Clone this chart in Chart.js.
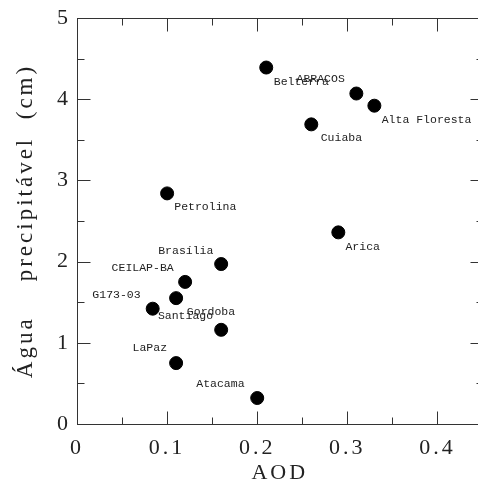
<!DOCTYPE html>
<html>
<head>
<meta charset="utf-8">
<script src="https://cdn.jsdelivr.net/npm/chart.js@4/dist/chart.umd.min.js"></script>
<style>
  html, body { margin: 0; padding: 0; background: #fff; overflow: hidden; }
  #wrap { width: 478px; height: 486px; overflow: hidden; }
</style>
</head>
<body>
<div id="wrap"><canvas id="chart" width="490" height="486"></canvas></div>
<script>
const sites = ["Belterra", "ABRACOS", "Alta Floresta", "Cuiaba", "Petrolina", "Arica", "Brasília",
  "CEILAP-BA", "Santiago", "G173-03", "Gordoba", "LaPaz", "Atacama"];
const aod = [0.21, 0.31, 0.33, 0.26, 0.10, 0.29, 0.16, 0.12, 0.11, 0.084, 0.16, 0.11, 0.20];
const water = [4.39, 4.07, 3.92, 3.69, 2.84, 2.36, 1.97, 1.75, 1.55, 1.42, 1.16, 0.75, 0.32];

const xTicks = [0, 0.1, 0.2, 0.3, 0.4];
const xTickLabels = ["0", "0.1", "0.2", "0.3", "0.4"];
const xMinor = [0.05, 0.15, 0.25, 0.35, 0.45];
const yTicks = [0, 1, 2, 3, 4, 5];
const yTickLabels = ["0", "1", "2", "3", "4", "5"];
const yMinor = [0.5, 1.5, 2.5, 3.5, 4.5];

// where each site name sits relative to its dot (px)
const labelDx = [35.1, -35.7, 52.2, 30.1, 38.2, 24.4, -35.4, -42.5, 9.4, -36.2, -10.2, -26.3, -36.8];
const labelDy = [14.3, -15, 14, 14, 14, 14.4, -13.3, -13.7, 18, -13.3, -17.7, -14.7, -14.3];

const axisFont = { family: "'Liberation Serif', serif", size: 22, weight: "normal" };
const ink = "#222";

const frameTicks = {
  id: "frameTicks",
  beforeDraw(chart) {
    chart.ctx.letterSpacing = "3px"; // the original axis lettering is loosely spaced
  },
  beforeDatasetsDraw(chart) {
    const { ctx, chartArea: a, scales: { x, y } } = chart;
    ctx.letterSpacing = "0px";
    ctx.save();
    ctx.strokeStyle = "#333";
    ctx.lineWidth = 1;
    const L = Math.round(a.left) + 0.5, R = Math.round(a.right) + 0.5;
    const T = Math.round(a.top) + 0.5, B = Math.round(a.bottom) + 0.5;
    ctx.strokeRect(L, T, R - L, B - T);
    const line = (x1, y1, x2, y2) => { ctx.beginPath(); ctx.moveTo(x1, y1); ctx.lineTo(x2, y2); ctx.stroke(); };
    const xt = (v, len) => {
      const px = Math.round(x.getPixelForValue(v)) + 0.5;
      line(px, B, px, B - len); line(px, T, px, T + len);
    };
    const yt = (v, len) => {
      const py = Math.round(y.getPixelForValue(v)) + 0.5;
      line(L, py, L + len, py); line(R, py, R - len, py);
    };
    xTicks.forEach(v => xt(v, 13));
    xMinor.forEach(v => xt(v, 7));
    yTicks.forEach(v => yt(v, 13));
    yMinor.forEach(v => yt(v, 7));
    ctx.restore();
  },
  afterDatasetsDraw(chart) {
    const ctx = chart.ctx;
    const pts = chart.getDatasetMeta(0).data;
    ctx.save();
    ctx.font = "11.5px 'Liberation Mono', monospace";
    ctx.fillStyle = ink;
    ctx.textAlign = "center";
    ctx.textBaseline = "middle";
    pts.forEach((p, i) => ctx.fillText(sites[i], p.x + labelDx[i], p.y + labelDy[i]));
    ctx.restore();
  }
};

new Chart("chart", {
  type: "scatter",
  data: {
    datasets: [{
      data: aod.map((v, i) => ({ x: v, y: water[i] })),
      backgroundColor: "#000",
      borderColor: "#000",
      pointRadius: 6.5,
      pointHoverRadius: 6.5
    }]
  },
  options: {
    responsive: false,
    animation: false,
    layout: { padding: { top: 18, right: 5.7, left: 0, bottom: 0 } },
    plugins: { legend: { display: false }, tooltip: { enabled: false } },
    scales: {
      x: {
        type: "linear",
        min: 0,
        max: 0.45,
        afterBuildTicks: s => { s.ticks = xTicks.map(v => ({ value: v })); },
        afterFit: s => { s.height = 62; s.paddingLeft = 0; s.paddingRight = 0; },
        grid: { display: false, drawTicks: false },
        border: { display: false },
        ticks: { font: axisFont, color: ink, padding: 11, maxRotation: 0, callback: (v, i) => xTickLabels[i] },
        title: { display: true, text: "AOD", font: axisFont, color: ink, padding: { top: 0, bottom: 0 } }
      },
      y: {
        min: 0,
        max: 5,
        afterBuildTicks: s => { s.ticks = yTicks.map(v => ({ value: v })); },
        afterFit: s => { s.width = 77; s.paddingTop = 0; s.paddingBottom = 0; },
        grid: { display: false, drawTicks: false },
        border: { display: false },
        ticks: { font: axisFont, color: ink, padding: 6, callback: (v, i) => yTickLabels[i] },
        title: {
          display: true,
          text: "Água    precipitável  (cm)",
          font: { family: "'Liberation Serif', serif", size: 23, weight: "normal" },
          color: ink,
          padding: { top: 12, bottom: 0 }
        }
      }
    }
  },
  plugins: [frameTicks]
});
</script>
</body>
</html>
